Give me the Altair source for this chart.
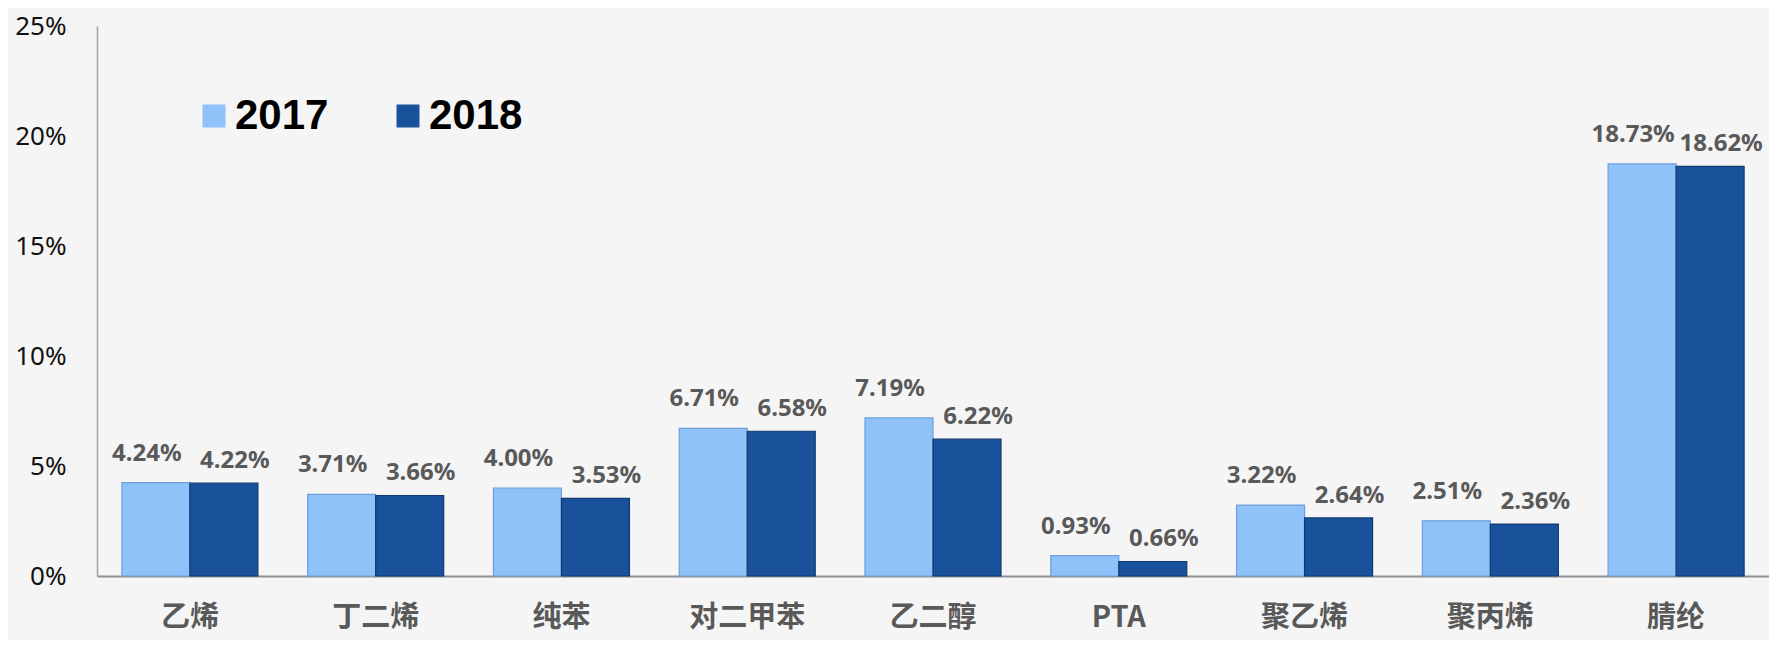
import altair as alt
import pandas as pd

cats = ["乙烯", "丁二烯", "纯苯", "对二甲苯", "乙二醇", "PTA", "聚乙烯", "聚丙烯", "腈纶"]
v2017 = [4.24, 3.71, 4.00, 6.71, 7.19, 0.93, 3.22, 2.51, 18.73]
v2018 = [4.22, 3.66, 3.53, 6.58, 6.22, 0.66, 2.64, 2.36, 18.62]
years = ["2017", "2018"]
y_ticks = [0, 5, 10, 15, 20, 25]

rows = []
for c, a, b in zip(cats, v2017, v2018):
    rows.append({"cat": c, "year": years[0], "value": a})
    rows.append({"cat": c, "year": years[1], "value": b})
df = pd.DataFrame(rows)
df["label"] = df["value"].map(lambda v: f"{v:.2f}%")

fill_colors = ["#8EC2F8", "#19529A"]
edge_colors = ["#6E9FD8", "#0E3A72"]

x_enc = alt.X(
    "cat:N",
    sort=cats,
    title=None,
    scale=alt.Scale(paddingInner=0.268, paddingOuter=0.134),
    axis=alt.Axis(
        labelAngle=0,
        labelFont="Noto Sans CJK SC",
        labelFontSize=29,
        labelFontWeight="bold",
        labelColor="#595959",
        labelPadding=27,
        ticks=False,
        domainColor="#909090",
        domainWidth=2,
    ),
)
xo_enc = alt.XOffset("year:N", sort=years, scale=alt.Scale(paddingInner=0, paddingOuter=0))
y_enc = alt.Y(
    "value:Q",
    title=None,
    scale=alt.Scale(domain=[0, 25], nice=False),
    axis=alt.Axis(
        values=y_ticks,
        labelExpr="datum.value + '%'",
        labelFont="Noto Sans",
        labelFontSize=26,
        labelColor="#111111",
        labelPadding=31,
        ticks=False,
        grid=False,
        domainColor="#A0A0A0",
        domainWidth=1.5,
    ),
)

base = alt.Chart(df)

bars = base.mark_bar(strokeWidth=1.2).encode(
    x=x_enc,
    xOffset=xo_enc,
    y=y_enc,
    color=alt.Color(
        "year:N",
        sort=years,
        scale=alt.Scale(domain=years, range=fill_colors),
        legend=alt.Legend(
            title=None,
            orient="none",
            legendX=96,
            legendY=69,
            direction="horizontal",
            symbolType="square",
            symbolSize=529,
            symbolStrokeWidth=0,
            labelFont="Liberation Sans",
            labelFontSize=42,
            labelFontWeight="bold",
            labelColor="#000000",
            labelOffset=0,
            columnPadding=58,
            padding=0,
        ),
    ),
    stroke=alt.Stroke("year:N", sort=years, scale=alt.Scale(domain=years, range=edge_colors), legend=None),
)

text_style = dict(font="Noto Sans", fontSize=24, fontWeight="bold", color="#595959", baseline="middle", align="center")

t2017 = base.transform_filter(alt.datum.year == years[0]).mark_text(dx=-9, dy=-29, **text_style).encode(
    x=alt.X("cat:N", sort=cats), xOffset=alt.XOffset("year:N", sort=years), y="value:Q", text="label:N"
)
t2018 = base.transform_filter(alt.datum.year == years[1]).mark_text(dx=11, dy=-22, **text_style).encode(
    x=alt.X("cat:N", sort=cats), xOffset=alt.XOffset("year:N", sort=years), y="value:Q", text="label:N"
)

chart = (
    alt.layer(bars, t2017, t2018)
    .properties(
        width=1672,
        height=550,
        autosize=alt.AutoSizeParams(type="none"),
        padding={"left": 89, "top": 18, "right": 0, "bottom": 64},
        background="#F5F5F5",
    )
    .configure_view(stroke=None)
)

chart.save("out.html", embed_options={"renderer": "svg", "actions": False})
